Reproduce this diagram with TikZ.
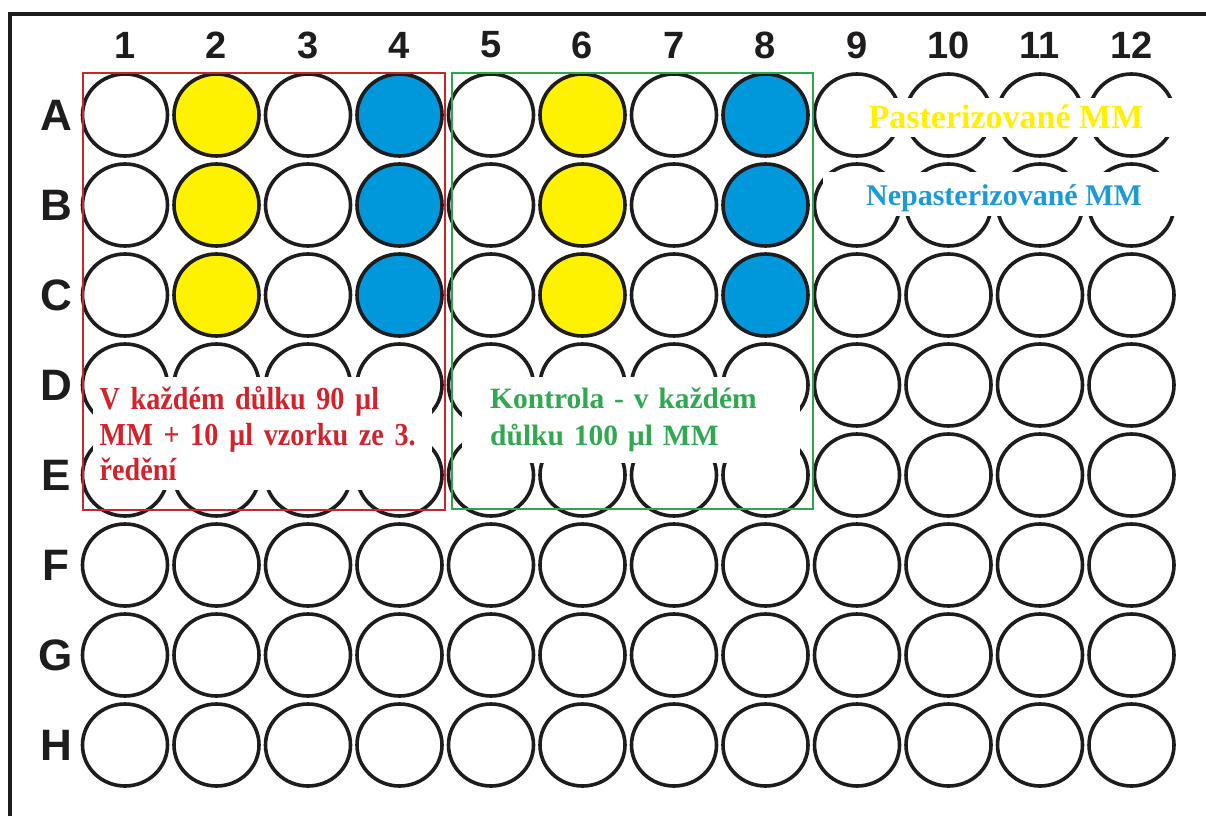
\documentclass[tikz,border=0pt]{standalone}
\usepackage{fontspec}
\setmainfont{Liberation Serif}
\newfontfamily\arialfont{Liberation Sans}
\newfontfamily\narrowserif{Liberation Serif}[FakeStretch=0.88]
\usetikzlibrary{shapes.geometric}
\definecolor{ink}{HTML}{1E1C1D}
\definecolor{wellyellow}{HTML}{FFF200}
\definecolor{wellblue}{HTML}{0097DB}
\definecolor{boxred}{HTML}{C8262E}
\definecolor{textred}{HTML}{D2232A}
\definecolor{boxgreen}{HTML}{2EA650}
\definecolor{textgreen}{HTML}{2FA84F}
\definecolor{textyellow}{HTML}{FFF000}
\definecolor{textblue}{HTML}{1B9AD6}
\begin{document}
\begin{tikzpicture}[x=1pt,y=-1pt,
  well/.style={ellipse, draw=ink, line width=3.6pt, minimum width=85pt, minimum height=82pt, inner sep=0pt},
  collabel/.style={font=\arialfont\bfseries\fontsize{38}{38}\selectfont, text=ink, inner sep=0pt},
  rowlabel/.style={font=\arialfont\bfseries\fontsize{44}{44}\selectfont, text=ink, inner sep=0pt},
  patchtext/.style={fill=white, inner ysep=0pt, align=left, anchor=north west},
  legendtext/.style={fill=white, inner ysep=0pt, inner xsep=0pt, anchor=base, minimum width=362pt},
  framerule/.style={draw=ink, line width=4pt},
  groupbox/.style={line width=2.2pt}
]
\useasboundingbox (0,0) rectangle (1206,816);
\fill[white] (0,0) rectangle (1206,816);

% frame
\draw[framerule] (10,816) -- (10,14) -- (1206,14);

% column numbers
\foreach \c in {1,...,12}
  \node[collabel] (col\c) at ({125+91.5*(\c-1)},45) {\c};
% row letters
\foreach \r [count=\i from 0] in {A,B,C,D,E,F,G,H}
  \node[rowlabel] (row\r) at (56,{115+90*\i}) {\r};

% wells rows A-C
\foreach \r [count=\i from 0] in {A,B,C}
  \foreach \c/\f in {1/white,2/wellyellow,3/white,4/wellblue,5/white,6/wellyellow,7/white,8/wellblue,9/white,10/white,11/white,12/white}
    \node[well, fill=\f] (\r\c) at ({125+91.5*(\c-1)},{115+90*\i}) {};
% wells rows D-H
\foreach \r [count=\i from 3] in {D,E,F,G,H}
  \foreach \c in {1,...,12}
    \node[well] (\r\c) at ({125+91.5*(\c-1)},{115+90*\i}) {};

% text patches
\node[patchtext, font=\narrowserif\bfseries\fontsize{32}{35.5}\selectfont, text=textred,
      text width=326pt, inner xsep=6.5pt, minimum height=113pt] (redtxt) at (93,377)
  {V každém důlku 90 µl\\MM + 10 µl vzorku ze 3.\\ředění};
\node[patchtext, font=\bfseries\fontsize{29.5}{37}\selectfont, text=textgreen,
      text width=282pt, inner xsep=28pt, minimum height=86pt] (greentxt) at (462,377)
  {Kontrola - v každém\\důlku 100 µl MM};
\node[legendtext, font=\bfseries\fontsize{34}{34}\selectfont, text=textyellow,
      text height=30pt, text depth=9pt] (pastxt) at (1006,128) {Pasterizované MM};
\node[legendtext, font=\bfseries\fontsize{30}{30}\selectfont, text=textblue,
      text height=33pt, text depth=11pt] (nepastxt) at (1004,205) {Nepasterizované MM};

% group boxes
\draw[groupbox, draw=boxred] (83,73) rectangle (445,510);
\draw[groupbox, draw=boxgreen] (452,73) rectangle (813,509);
\end{tikzpicture}
\end{document}
